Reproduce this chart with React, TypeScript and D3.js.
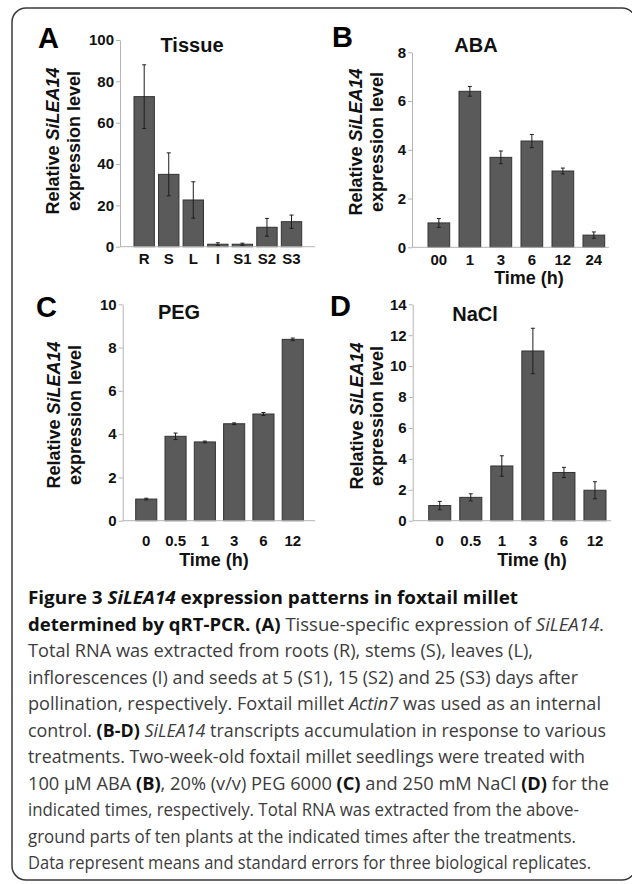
import React, { useRef, useEffect } from 'react';
import * as d3 from 'd3';

// Panel A - tissues
const tissueCats = ['R', 'S', 'L', 'I', 'S1', 'S2', 'S3'];
const tissueVals = [72.6, 35.0, 22.6, 1.2, 1.2, 9.4, 12.1];
const tissueErr = [15.4, 10.4, 8.8, 0.7, 0.5, 4.3, 3.2];
const tissueTicks = [0, 20, 40, 60, 80, 100];

// Panel B - ABA
const abaCats = ['00', '1', '3', '6', '12', '24'];
const abaVals = [1.0, 6.4, 3.69, 4.36, 3.13, 0.5];
const abaErr = [0.18, 0.2, 0.26, 0.27, 0.12, 0.13];
const abaTicks = [0, 2, 4, 6, 8];

// Panels C and D share the time points
const timeCats = ['0', '0.5', '1', '3', '6', '12'];
const pegVals = [1.0, 3.9, 3.64, 4.48, 4.93, 8.38];
const pegErr = [0.04, 0.15, 0.04, 0.04, 0.07, 0.06];
const pegTicks = [0, 2, 4, 6, 8, 10];
const naclVals = [0.98, 1.51, 3.54, 10.98, 3.12, 1.97];
const naclErr = [0.27, 0.23, 0.66, 1.47, 0.33, 0.55];
const naclTicks = [0, 2, 4, 6, 8, 10, 12, 14];

// caption, one entry per printed line: [text, style]
const captionLines: [string, string][][] = [
  [['Figure 3 ', 'b'], ['SiLEA14', 'bi'], [' expression patterns in foxtail millet', 'b']],
  [['determined by qRT-PCR. (A)', 'b'], [' Tissue-specific expression of ', ''], ['SiLEA14', 'i'], ['.', '']],
  [['Total RNA was extracted from roots (R), stems (S), leaves (L),', '']],
  [['inflorescences (I) and seeds at 5 (S1), 15 (S2) and 25 (S3) days after', '']],
  [['pollination, respectively. Foxtail millet ', ''], ['Actin7', 'i'], [' was used as an internal', '']],
  [['control. ', ''], ['(B-D)', 'b'], [' ', ''], ['SiLEA14', 'i'], [' transcripts accumulation in response to various', '']],
  [['treatments. Two-week-old foxtail millet seedlings were treated with', '']],
  [['100 \u00b5M ABA ', ''], ['(B)', 'b'], [', 20% (v/v) PEG 6000 ', ''], ['(C)', 'b'], [' and 250 mM NaCl ', ''], ['(D)', 'b'], [' for the', '']],
  [['indicated times, respectively. Total RNA was extracted from the above-', '']],
  [['ground parts of ten plants at the indicated times after the treatments.', '']],
  [['Data represent means and standard errors for three biological replicates.', '']],
];
const captionEnds = [518, 604, 533, 578, 601, 606, 585, 609, 579, 576, 591];

const FONT = '"Liberation Sans", Arial, Helvetica, sans-serif';
const CAP_FONT = '"Open Sans", "Noto Sans", sans-serif';
const axisColor = '#b4b4b4';
const barFill = '#5a5a5a';
const barStroke = '#333';

interface PanelData {
  letter: string;
  title: string;
  cats: string[];
  vals: number[];
  errs: number[];
  ticks: number[];
  time: boolean;
}

interface Layout {
  axisX: number; axisEnd: number; barStart: number; barEnd: number; pad: number;
  yBottom: number; yTop: number;
  letterX: number; letterY: number; titleX: number; titleY: number;
  labX1: number; labX2: number; labY: number; catY: number; timeX: number; timeY: number;
}

const panels: PanelData[] = [
  { letter: 'A', title: 'Tissue', cats: tissueCats, vals: tissueVals, errs: tissueErr, ticks: tissueTicks, time: false },
  { letter: 'B', title: 'ABA', cats: abaCats, vals: abaVals, errs: abaErr, ticks: abaTicks, time: true },
  { letter: 'C', title: 'PEG', cats: timeCats, vals: pegVals, errs: pegErr, ticks: pegTicks, time: true },
  { letter: 'D', title: 'NaCl', cats: timeCats, vals: naclVals, errs: naclErr, ticks: naclTicks, time: true },
];

const layouts: Layout[] = [
  { axisX: 120, axisEnd: 315, barStart: 134, barEnd: 301.7, pad: 0.17, yBottom: 246.7, yTop: 40,
    letterX: 38, letterY: 48, titleX: 192, titleY: 52, labX1: 59, labX2: 80, labY: 141, catY: 264, timeX: 0, timeY: 0 },
  { axisX: 412, axisEnd: 609, barStart: 428, barEnd: 604.7, pad: 0.3, yBottom: 247.3, yTop: 52.3,
    letterX: 332, letterY: 47, titleX: 476, titleY: 52, labX1: 362, labX2: 383, labY: 142, catY: 265, timeX: 529, timeY: 284 },
  { axisX: 122.7, axisEnd: 315, barStart: 135.7, barEnd: 303.3, pad: 0.28, yBottom: 520.7, yTop: 304.3,
    letterX: 36, letterY: 317, titleX: 179, titleY: 319, labX1: 60, labX2: 81, labY: 415, catY: 546, timeX: 214, timeY: 566 },
  { axisX: 412.7, axisEnd: 611, barStart: 428.7, barEnd: 606, pad: 0.29, yBottom: 520.7, yTop: 304.3,
    letterX: 330, letterY: 316, titleX: 475, titleY: 321, labX1: 363, labX2: 383, labY: 416, catY: 546, timeX: 532, timeY: 566 },
];

function drawPanel(root: d3.Selection<SVGGElement, unknown, null, undefined>, p: PanelData, l: Layout) {
  const g = root.append('g').attr('font-family', FONT).attr('font-weight', 'bold');

  const x = d3.scaleBand<string>()
    .domain(p.cats)
    .range([l.barStart, l.barEnd])
    .paddingInner(l.pad)
    .paddingOuter(0);

  const y = d3.scaleLinear()
    .domain([0, d3.max(p.ticks) as number])
    .range([l.yBottom, l.yTop]);

  // bars
  g.selectAll('.bar')
    .data(p.vals)
    .enter()
    .append('rect')
    .attr('x', (_, i) => x(p.cats[i]) as number)
    .attr('y', d => y(d))
    .attr('width', x.bandwidth())
    .attr('height', d => y(0) - y(d))
    .attr('fill', barFill)
    .attr('stroke', barStroke)
    .attr('stroke-width', 1);

  // error bars
  const cx = (i: number) => (x(p.cats[i]) as number) + x.bandwidth() / 2;
  const err = g.selectAll('.err')
    .data(p.vals)
    .enter()
    .append('g')
    .attr('stroke', '#1e1e1e')
    .attr('stroke-width', 1);
  err.append('line')
    .attr('x1', (_, i) => cx(i)).attr('x2', (_, i) => cx(i))
    .attr('y1', (d, i) => y(d - p.errs[i])).attr('y2', (d, i) => y(d + p.errs[i]));
  err.append('line')
    .attr('x1', (_, i) => cx(i) - 2).attr('x2', (_, i) => cx(i) + 2)
    .attr('y1', (d, i) => y(d + p.errs[i])).attr('y2', (d, i) => y(d + p.errs[i]));
  err.append('line')
    .attr('x1', (_, i) => cx(i) - 2).attr('x2', (_, i) => cx(i) + 2)
    .attr('y1', (d, i) => y(d - p.errs[i])).attr('y2', (d, i) => y(d - p.errs[i]));

  // y axis
  const ya = g.append('g')
    .attr('transform', `translate(${l.axisX},0)`)
    .call(d3.axisLeft(y).tickValues(p.ticks).tickSize(4).tickSizeOuter(0).tickPadding(2));
  ya.attr('font-size', 15).attr('font-family', FONT);
  ya.select('.domain').attr('stroke', axisColor);
  ya.selectAll('.tick line').attr('stroke', axisColor);
  ya.selectAll('.tick text').attr('fill', '#111');

  // x axis line
  g.append('line')
    .attr('x1', l.axisX).attr('x2', l.axisEnd)
    .attr('y1', y(0)).attr('y2', y(0))
    .attr('stroke', axisColor);

  // category labels
  const xa = g.append('g')
    .attr('transform', `translate(0,${y(0)})`)
    .call(d3.axisBottom(x).tickSize(0));
  xa.attr('font-size', 15).attr('font-family', FONT);
  xa.select('.domain').remove();
  xa.selectAll('.tick text')
    .attr('fill', '#111')
    .attr('dy', null)
    .attr('y', l.catY - y(0));

  if (p.time) {
    g.append('text')
      .attr('x', l.timeX).attr('y', l.timeY)
      .attr('text-anchor', 'middle')
      .attr('font-size', 18)
      .attr('fill', '#111')
      .text('Time (h)');
  }

  // panel letter and title
  g.append('text')
    .attr('x', l.letterX).attr('y', l.letterY)
    .attr('font-size', 29)
    .attr('fill', '#000')
    .text(p.letter);
  g.append('text')
    .attr('x', l.titleX).attr('y', l.titleY)
    .attr('text-anchor', 'middle')
    .attr('font-size', 20)
    .attr('fill', '#111')
    .text(p.title);

  // y axis title, two lines
  const lab1 = g.append('text')
    .attr('transform', `translate(${l.labX1},${l.labY}) rotate(-90)`)
    .attr('text-anchor', 'middle')
    .attr('font-size', 18)
    .attr('fill', '#111');
  lab1.append('tspan').text('Relative ');
  lab1.append('tspan').attr('font-style', 'italic').text('SiLEA14');
  g.append('text')
    .attr('transform', `translate(${l.labX2},${l.labY}) rotate(-90)`)
    .attr('text-anchor', 'middle')
    .attr('font-size', 18)
    .attr('fill', '#111')
    .text('expression level');
}

const App: React.FC = () => {
  const chartRef = useRef<SVGGElement>(null);

  useEffect(() => {
    if (!chartRef.current) return;
    const root = d3.select(chartRef.current);
    root.selectAll('*').remove();
    panels.forEach((p, i) => drawPanel(root, p, layouts[i]));
  }, []);

  return (
    <svg
      width={632}
      height={884}
      style={{ position: 'absolute', left: 0, top: 0, display: 'block', background: '#fff' }}
    >
      <rect x={12} y={8} width={624} height={872} rx={14} fill="#fff" stroke="#3a3a3a" strokeWidth={1.5} />
      <g ref={chartRef} />
      <g fontFamily={CAP_FONT} fontSize={17.5}>
        {captionLines.map((line, i) => (
          <text
            key={i}
            x={28}
            y={604 + i * 26.5}
            textLength={captionEnds[i] - 28}
            lengthAdjust="spacingAndGlyphs"
            fill="#3c3c3c"
          >
            {line.map(([t, s], j) => (
              <tspan
                key={j}
                fontWeight={s.includes('b') ? 700 : 400}
                fontStyle={s.includes('i') ? 'italic' : 'normal'}
                fill={s.includes('b') ? '#111' : '#3c3c3c'}
              >
                {t}
              </tspan>
            ))}
          </text>
        ))}
      </g>
    </svg>
  );
};

export default App;
